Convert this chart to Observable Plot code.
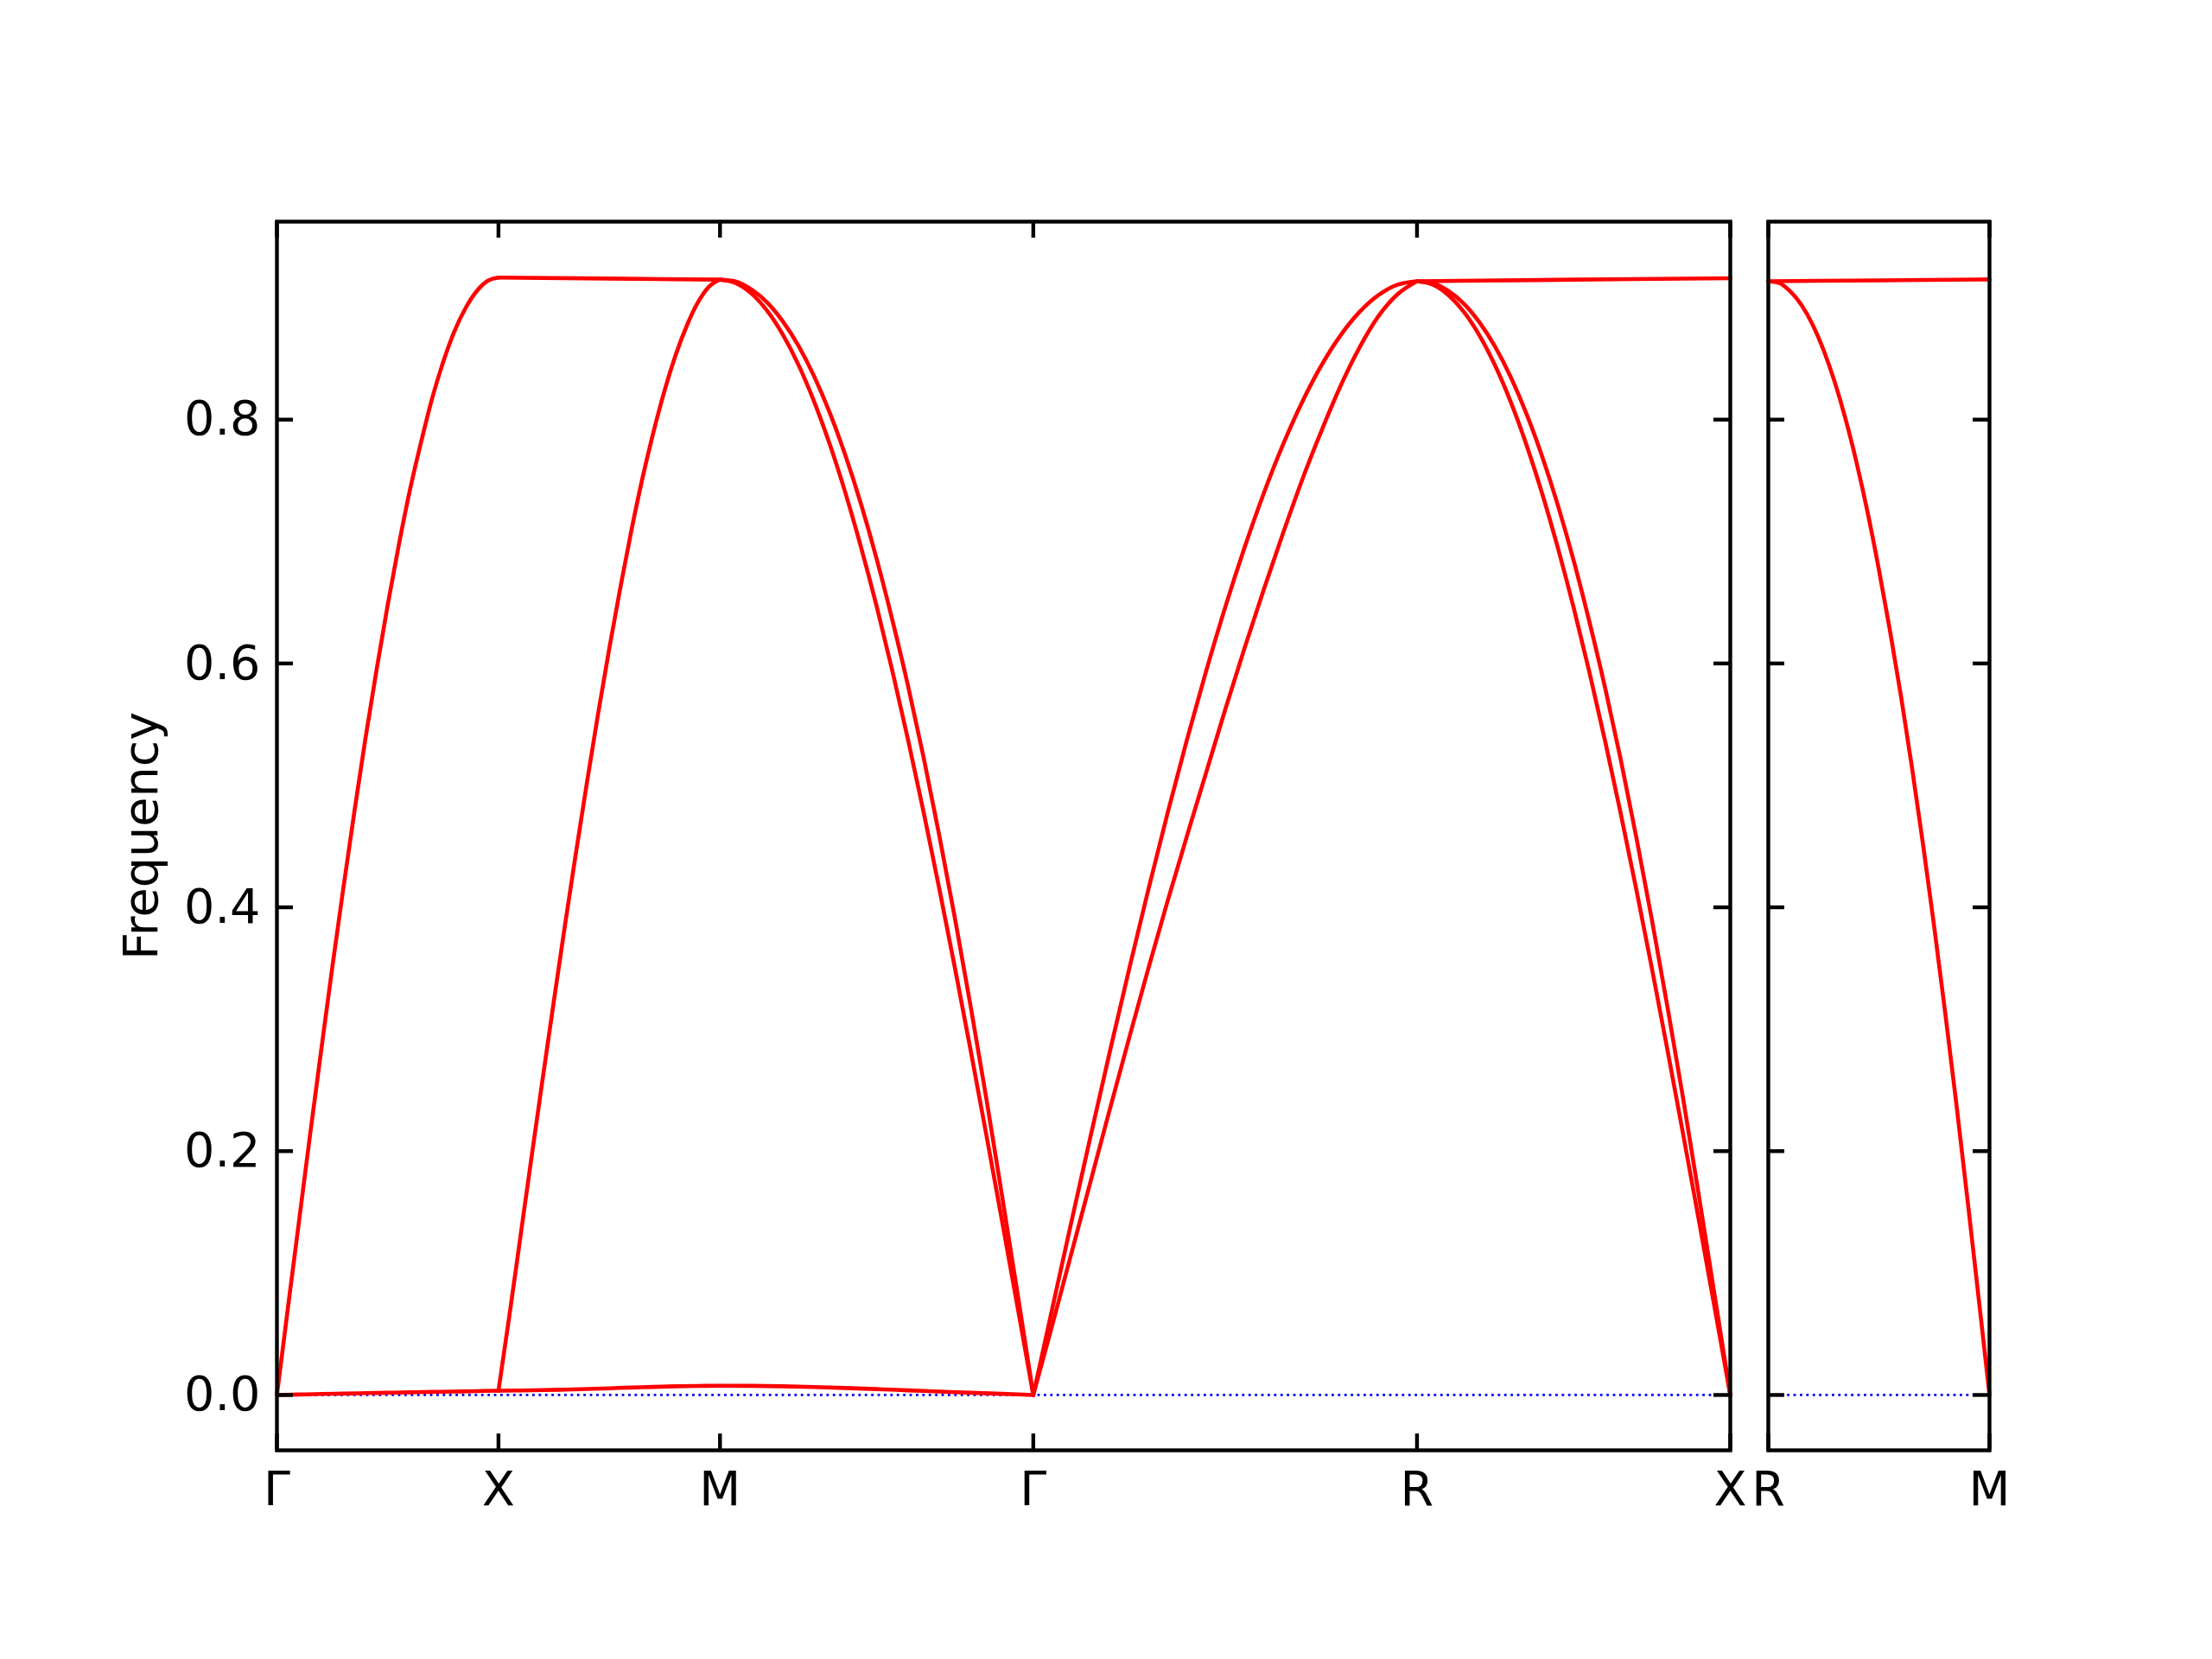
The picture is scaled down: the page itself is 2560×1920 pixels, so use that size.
<!DOCTYPE html>
<html><head><meta charset="utf-8">
<script src="https://cdn.jsdelivr.net/npm/d3@7"></script>
<script src="https://cdn.jsdelivr.net/npm/@observablehq/plot@0.6"></script>
<style>
html,body{margin:0;padding:0;background:#fff;}
#wrap{position:relative;width:2560px;height:1920px;overflow:hidden;background:#fff;}
#wrap > svg{position:absolute;top:0;overflow:visible;}
</style></head><body><div id="wrap"></div>
<script>
// High-symmetry points (main panel and side panel)
const pathLabels = ["Γ", "X", "M", "Γ", "R", "X"];
const pathPos = [0, 0.5, 1.0, 1.7071, 2.5731, 3.2802];
const sideLabels = ["R", "M"];
const sidePos = [0, 0.5];
const yTicks = [0, 0.2, 0.4, 0.6, 0.8];
const yDomain = [-0.0454, 0.9624];

// Γ → X
const gxLow   = [0, 0.0004, 0.0008, 0.0011, 0.0015, 0.0018, 0.0022, 0.0025, 0.0028, 0.0032, 0.0035];
const gxHigh  = [0, 0.072, 0.143, 0.214, 0.283, 0.351, 0.416, 0.479, 0.539, 0.595, 0.648,
                 0.697, 0.742, 0.781, 0.817, 0.847, 0.872, 0.891, 0.905, 0.9137, 0.9165];
// X → M
const xmLow   = [0.0035, 0.0037, 0.0040, 0.0044, 0.0049, 0.0055, 0.0061, 0.0066, 0.0071, 0.0074, 0.0076];
const xmRise  = [0.0035, 0.066, 0.131, 0.196, 0.260, 0.323, 0.385, 0.445, 0.503, 0.559, 0.612,
                 0.662, 0.709, 0.752, 0.790, 0.824, 0.853, 0.877, 0.896, 0.909, 0.9148];
const xmFlat  = [0.9165, 0.9157, 0.9148];
// M → Γ
const mgLow   = [0.0076, 0.0075, 0.0071, 0.0065, 0.0057, 0.0048, 0.0038, 0.0028, 0.0018, 0.0009, 0];
const mgInner = [0.9148, 0.912, 0.9035, 0.8895, 0.870, 0.8452, 0.8151, 0.780, 0.7401, 0.6955, 0.6469,
                 0.5941, 0.5377, 0.478, 0.4153, 0.3501, 0.2827, 0.2135, 0.1431, 0.0718, 0];
const mgOuter = [0.9148, 0.9133, 0.9068, 0.8963, 0.8808, 0.8608, 0.8358, 0.8058, 0.7708, 0.7308, 0.6858,
                 0.6358, 0.5818, 0.5228, 0.4588, 0.3908, 0.3188, 0.2433, 0.1638, 0.0828, 0];
// Γ → R
const grUpper = [0, 0.0717, 0.1429, 0.2132, 0.2823, 0.3496, 0.4147, 0.4773, 0.5369, 0.5932, 0.6459,
                 0.6945, 0.739, 0.7789, 0.814, 0.844, 0.8688, 0.8882, 0.9022, 0.9107, 0.9135];
const grLower = [0, 0.058, 0.117, 0.176, 0.235, 0.293, 0.350, 0.405, 0.458, 0.510, 0.562,
                 0.612, 0.660, 0.706, 0.750, 0.790, 0.827, 0.859, 0.885, 0.903, 0.9135];
// R → X
const rxFlat  = [0.9135, 0.9148, 0.916];
const rxInner = [0.9135, 0.9107, 0.9022, 0.8882, 0.8688, 0.844, 0.814, 0.7789, 0.739, 0.6945, 0.6459,
                 0.5932, 0.5369, 0.4773, 0.4147, 0.3496, 0.2823, 0.2132, 0.1429, 0.0717, 0];
const rxOuter = [0.9135, 0.912, 0.9055, 0.895, 0.8795, 0.8595, 0.8345, 0.8045, 0.7695, 0.7295, 0.6845,
                 0.6345, 0.5805, 0.5215, 0.4575, 0.3895, 0.3175, 0.2425, 0.163, 0.082, 0];
// R → M (side panel)
const rmFlat  = [0.9135, 0.9142, 0.915];
const rmFall  = [0.9135, 0.912, 0.905, 0.894, 0.878, 0.857, 0.831, 0.800, 0.764, 0.723, 0.677,
                 0.627, 0.573, 0.514, 0.451, 0.384, 0.313, 0.239, 0.161, 0.081, 0];

function seg(id, x0, x1, vals) {
  return vals.map((v, i) => ({id, k: x0 + (x1 - x0) * i / (vals.length - 1), f: v}));
}
const P = pathPos;
const mainData = [
  ...seg("gxLow", P[0], P[1], gxLow), ...seg("gxHigh", P[0], P[1], gxHigh),
  ...seg("xmLow", P[1], P[2], xmLow), ...seg("xmRise", P[1], P[2], xmRise), ...seg("xmFlat", P[1], P[2], xmFlat),
  ...seg("mgLow", P[2], P[3], mgLow), ...seg("mgInner", P[2], P[3], mgInner), ...seg("mgOuter", P[2], P[3], mgOuter),
  ...seg("grUpper", P[3], P[4], grUpper), ...seg("grLower", P[3], P[4], grLower),
  ...seg("rxFlat", P[4], P[5], rxFlat), ...seg("rxInner", P[4], P[5], rxInner), ...seg("rxOuter", P[4], P[5], rxOuter)
];
const sideData = [
  ...seg("rmFlat", sidePos[0], sidePos[1], rmFlat), ...seg("rmFall", sidePos[0], sidePos[1], rmFall)
];

const FONT = {fontFamily: "'DejaVu Sans', sans-serif", fontSize: "55.6px", color: "black", background: "transparent", overflow: "visible"};
const TICK = 19, LW = 4.4;
const H = 1920, MT = 256, MB = 242;
const FH = H - MT - MB;

function panel({width, ml, mr, domain, pos, labels, data, yLabels}) {
  const FW = width - ml - mr;
  const labelMap = new Map(pos.map((p, i) => [p, labels[i]]));
  const marks = [
    Plot.ruleY([0], {stroke: "#0000ff", strokeWidth: 2.8, strokeDasharray: "2.8,4.6"}),
    Plot.line(data, {x: "k", y: "f", z: "id", stroke: "#ff0000", strokeWidth: 4.6, curve: "monotone-x"}),
    Plot.tickY(yTicks, {y: d => d, stroke: "black", strokeWidth: LW, insetRight: FW - TICK}),
    Plot.tickY(yTicks, {y: d => d, stroke: "black", strokeWidth: LW, insetLeft: FW - TICK}),
    Plot.tickX(pos, {x: d => d, stroke: "black", strokeWidth: LW, insetTop: FH - TICK}),
    Plot.tickX(pos, {x: d => d, stroke: "black", strokeWidth: LW, insetBottom: FH - TICK}),
    Plot.frame({stroke: "black", strokeWidth: LW}),
    Plot.axisX(pos, {anchor: "bottom", tickSize: 0, tickPadding: 24, tickFormat: d => labelMap.get(d), label: null, fontSize: 55.6})
  ];
  if (yLabels) {
    marks.push(Plot.axisY(yTicks, {anchor: "left", tickSize: 0, tickPadding: 19, tickFormat: d3.format(".1f"), fontSize: 55.6,
      label: "Frequency", labelAnchor: "center", labelOffset: 178, labelArrow: "none"}));
  } else {
    marks.push(Plot.axisY(yTicks, {anchor: "left", tickSize: 0, tickFormat: () => "", label: null}));
  }
  return Plot.plot({
    width, height: H, marginLeft: ml, marginRight: mr, marginTop: MT, marginBottom: MB,
    style: FONT,
    x: {domain, label: null},
    y: {domain: yDomain, label: null},
    marks
  });
}

const wrap = document.getElementById("wrap");
const main = panel({width: 2024, ml: 320, mr: 22, domain: [P[0], P[5]], pos: pathPos, labels: pathLabels, data: mainData, yLabels: true});
main.style.left = "0px";
wrap.appendChild(main);
const side = panel({width: 300, ml: 22, mr: 22, domain: sidePos, pos: sidePos, labels: sideLabels, data: sideData, yLabels: false});
side.style.left = "2024px";
wrap.appendChild(side);
</script></body></html>
